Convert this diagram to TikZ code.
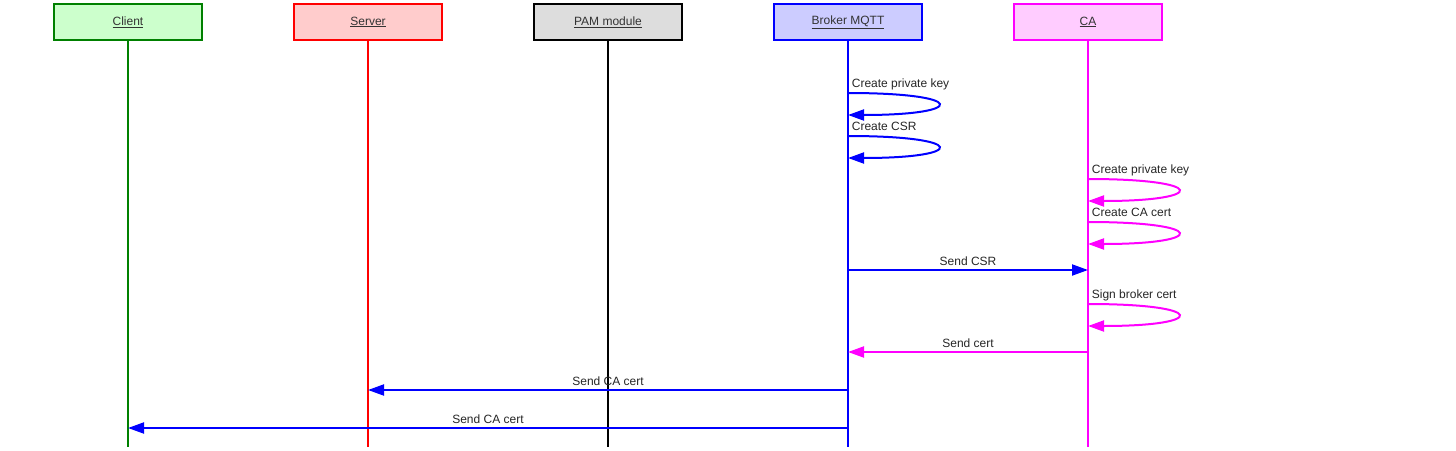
\documentclass[tikz,border=0pt]{standalone}
\usepackage{fontspec}
\setmainfont{Liberation Sans}
\usepackage{xcolor}
\usetikzlibrary{arrows.meta,positioning}

\definecolor{clientfill}{HTML}{CCFFCC}
\definecolor{clientline}{HTML}{008000}
\definecolor{serverfill}{HTML}{FFCCCC}
\definecolor{serverline}{HTML}{FF0000}
\definecolor{pamfill}{HTML}{DDDDDD}
\definecolor{pamline}{HTML}{000000}
\definecolor{brokerfill}{HTML}{CCCCFF}
\definecolor{brokerline}{HTML}{0000FF}
\definecolor{cafill}{HTML}{FFCCFF}
\definecolor{caline}{HTML}{FF00FF}

\begin{document}
\begin{tikzpicture}[
  x=1pt, y=-1pt,
  node distance=5mm and 90pt,
  font=\fontsize{12}{14}\selectfont,
  actor/.style={draw, line width=2pt, minimum width=148pt, minimum height=36pt,
    text=black!80},
  lifeline/.style={line width=2pt},
  msg/.style={line width=2pt, -{Triangle[length=16pt,width=11pt]}},
  selfloop/.style={to path={.. controls +(120,0) and +(120,0) .. (\tikztotarget)}},
  lbl/.style={anchor=base west, xshift=-0.5pt, yshift=5.5pt, text=black!85},
  mlbl/.style={midway, anchor=base, yshift=4.5pt, text=black!85}
]
\useasboundingbox (0,0) rectangle (1456,450);

\node[actor, fill=clientfill, draw=clientline] (client) at (128,22) {\underline{Client}};
\node[actor, fill=serverfill, draw=serverline, right=of client] (server) {\underline{Server}};
\node[actor, fill=pamfill, draw=pamline, right=of server] (pam) {\underline{PAM module}};
\node[actor, fill=brokerfill, draw=brokerline, right=of pam] (broker) {\underline{Broker MQTT}};
\node[actor, fill=cafill, draw=caline, right=of broker] (ca) {\underline{CA}};

\coordinate (bottom) at (0,447);
\draw[lifeline, clientline] (client.south) -- (client |- bottom);
\draw[lifeline, serverline] (server.south) -- (server |- bottom);
\draw[lifeline, pamline] (pam.south) -- (pam |- bottom);
\draw[lifeline, brokerline] (broker.south) -- (broker |- bottom);
\draw[lifeline, caline] (ca.south) -- (ca |- bottom);

\draw[msg, brokerline] (broker |- 0,93) node[lbl] {Create private key}
  to[selfloop] (broker |- 0,115);
\draw[msg, brokerline] (broker |- 0,136) node[lbl] {Create CSR}
  to[selfloop] (broker |- 0,158);
\draw[msg, caline] (ca |- 0,179) node[lbl] {Create private key}
  to[selfloop] (ca |- 0,201);
\draw[msg, caline] (ca |- 0,222) node[lbl] {Create CA cert}
  to[selfloop] (ca |- 0,244);
\draw[msg, brokerline] (broker |- 0,270) -- node[mlbl] {Send CSR} (ca |- 0,270);
\draw[msg, caline] (ca |- 0,304) node[lbl] {Sign broker cert}
  to[selfloop] (ca |- 0,326);
\draw[msg, caline] (ca |- 0,352) -- node[mlbl] {Send cert} (broker |- 0,352);
\draw[msg, brokerline] (broker |- 0,390) -- node[mlbl] {Send CA cert} (server |- 0,390);
\draw[msg, brokerline] (broker |- 0,428) -- node[mlbl] {Send CA cert} (client |- 0,428);
\end{tikzpicture}
\end{document}
